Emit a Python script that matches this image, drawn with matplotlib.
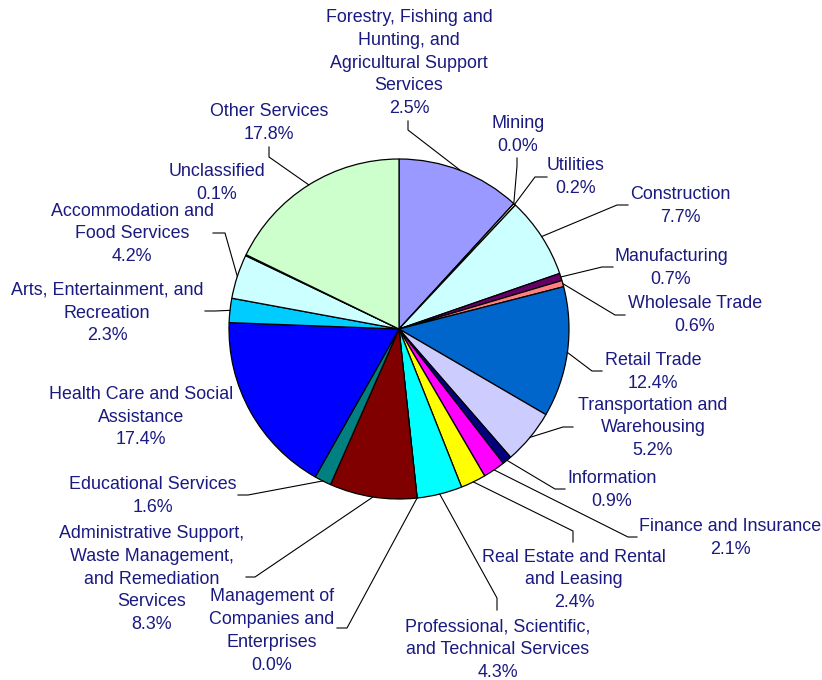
import matplotlib
matplotlib.use("Agg")
import matplotlib.pyplot as plt
import numpy as np

# slice sizes as drawn (first wedge is drawn larger than its printed share)
sectors = [
    "Forestry, Fishing and\nHunting, and\nAgricultural Support\nServices",
    "Mining",
    "Utilities",
    "Construction",
    "Manufacturing",
    "Wholesale Trade",
    "Retail Trade",
    "Transportation and\nWarehousing",
    "Information",
    "Finance and Insurance",
    "Real Estate and Rental\nand Leasing",
    "Professional, Scientific,\nand Technical Services",
    "Management of\nCompanies and\nEnterprises",
    "Administrative Support,\nWaste Management,\nand Remediation\nServices",
    "Educational Services",
    "Health Care and Social\nAssistance",
    "Arts, Entertainment, and\nRecreation",
    "Accommodation and\nFood Services",
    "Unclassified",
    "Other Services",
]
slice_values = [11.8, 0.0, 0.2, 7.7, 0.7, 0.6, 12.4, 5.2, 0.9, 2.1,
                2.4, 4.3, 0.0, 8.3, 1.6, 17.4, 2.3, 4.2, 0.1, 17.8]
printed_pct = ["2.5%", "0.0%", "0.2%", "7.7%", "0.7%", "0.6%", "12.4%", "5.2%",
               "0.9%", "2.1%", "2.4%", "4.3%", "0.0%", "8.3%", "1.6%", "17.4%",
               "2.3%", "4.2%", "0.1%", "17.8%"]
colors = ["#9999FF", "#993366", "#FFFFCC", "#CCFFFF", "#660066", "#FF8080",
          "#0066CC", "#CCCCFF", "#000080", "#FF00FF", "#FFFF00", "#00FFFF",
          "#800080", "#800000", "#008080", "#0000FF", "#00CCFF", "#CCFFFF",
          "#FFFF99", "#CCFFCC"]

# label layout in pixel coords (x, y from top)
label_pos = [(409, 63), (518, 135), (576, 177), (680, 206), (671, 268),
             (695, 315), (653, 372), (653, 428), (612, 490), (730, 538),
             (574, 580), (498, 650), (272, 631), (152, 579), (153, 496),
             (141, 417), (107, 313), (132, 234), (217, 183), (269, 123)]
# leader line elbow and end points (None = no leader)
leaders = [((408, 130), (408, 121)), ((517, 166), (517, 158)),
           ((535, 177), (547, 177)), ((617, 205), (628, 205)),
           ((602, 267), (613, 267)), ((615, 315), (625, 315)),
           ((592, 371), (602, 371)), ((563, 427), (573, 427)),
           ((555, 489), (565, 489)), ((628, 537), (637, 537)),
           ((573, 531), (573, 542)), ((497, 598), (497, 610)),
           ((347, 628), (337, 628)), ((255, 577), (246, 577)),
           ((248, 495), (238, 495)), None,
           ((215, 311), (205, 311)), ((225, 233), (213, 233)),
           None, ((269, 157), (269, 147))]

W, H = 822, 680
cx, cy, r = 399, 329, 170

fig = plt.figure(figsize=(W / 100, H / 100), dpi=100)
ax = fig.add_axes([0, 0, 1, 1])

wedges, _ = ax.pie(slice_values, colors=colors, startangle=90, counterclock=False,
                   center=(cx, H - cy), radius=r,
                   wedgeprops=dict(edgecolor="black", linewidth=0.9))

# pie() resets the limits, so set them afterwards
ax.set_xlim(0, W)
ax.set_ylim(0, H)
ax.set_aspect("equal")
ax.axis("off")

for i, w in enumerate(wedges):
    tx, ty = label_pos[i]
    ax.text(tx, H - ty, sectors[i] + "\n" + printed_pct[i], ha="center", va="center",
            multialignment="center", fontsize=12.9, color="#1a1a80",
            family=["Liberation Sans", "DejaVu Sans"], linespacing=1.45)
    if leaders[i] is None:
        continue
    mid = np.deg2rad((w.theta1 + w.theta2) / 2)
    sx = cx + r * np.cos(mid)
    sy = (H - cy) + r * np.sin(mid)
    (ex, ey), (fx, fy) = leaders[i]
    ax.plot([sx, ex, fx], [sy, H - ey, H - fy], color="black", linewidth=0.8)

fig.savefig("out.png", dpi=100)
